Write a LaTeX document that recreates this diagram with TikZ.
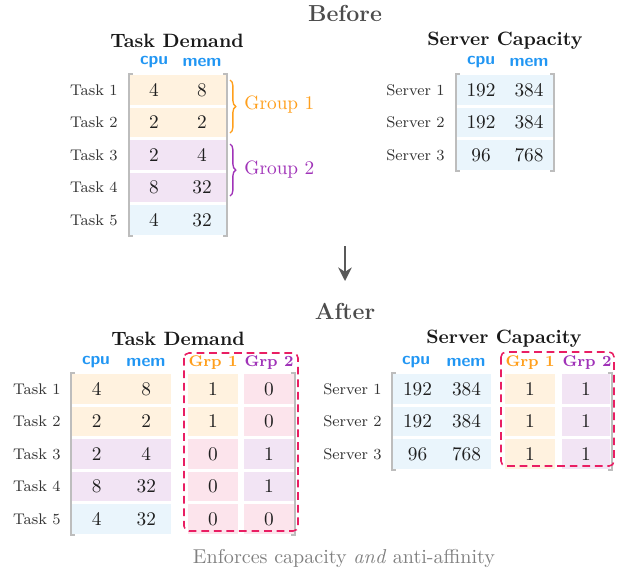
\documentclass[tikz,border=0pt]{standalone}
\usetikzlibrary{decorations.pathreplacing,arrows.meta}
\definecolor{obg}{HTML}{FFF2DF}
\definecolor{pbg}{HTML}{F2E4F4}
\definecolor{bbg}{HTML}{EAF5FC}
\definecolor{kbg}{HTML}{FCE4EC}
\definecolor{ofg}{HTML}{FF9F1C}
\definecolor{pfg}{HTML}{A033B8}
\definecolor{bfg}{HTML}{2196F3}
\definecolor{kfg}{HTML}{E91E63}
\definecolor{brk}{HTML}{BDBDBD}
\begin{document}
\begin{tikzpicture}[x=0.518pt,y=-0.518pt,
  cell/.style={inner sep=0pt,minimum height=15.5pt,text=black!88},
  wa/.style={minimum width=24.9pt},
  wb/.style={minimum width=25.65pt},
  wc/.style={minimum width=25.9pt},
  rowlbl/.style={anchor=east,font=\footnotesize,text=black!80,inner sep=0pt},
  colhd/.style={font=\small\sffamily\bfseries,text=bfg,inner sep=0pt},
  grphd/.style={font=\footnotesize\bfseries,inner sep=0pt},
  ttl/.style={font=\bfseries,text=black!90,inner sep=0pt},
  bigttl/.style={font=\large\bfseries,text=black!70,inner sep=0pt},
  brkt/.style={draw=brk,line width=0.6pt},
  grpbox/.style={draw=kfg,line width=0.8pt,dash pattern=on 4pt off 2.5pt,rounded corners=2.5pt},
  bracestyle/.style={decorate,decoration={brace,amplitude=3pt},line width=0.7pt},
]
\useasboundingbox (0,0) rectangle (623,571);

% ---------- Before ----------
\node[bigttl] (before) at (345,13) {Before};

% Task demand (before)
\node[ttl] (tdB) at (177,41) {Task Demand};
\node[colhd] (cpuB) at (154,62) {cpu};
\node[colhd] (memB) at (202,62) {mem};
\foreach \i/\y/\c/\a/\b in {1/90/obg/4/8, 2/122.5/obg/2/2, 3/155/pbg/2/4, 4/187.5/pbg/8/32, 5/220/bbg/4/32} {
  \node[rowlbl] (bt\i) at (118,\y) {Task \i};
  \node[cell,wa,fill=\c] (bta\i) at (154,\y) {\a};
  \node[cell,wa,fill=\c] (btb\i) at (202,\y) {\b};
}
\draw[brkt] (133,74) -- (129,74) -- (129,236) -- (133,236);
\draw[brkt] (223,74) -- (227,74) -- (227,236) -- (223,236);
\draw[bracestyle,draw=ofg] (230,80) -- (230,133);
\node[anchor=west,text=ofg,inner sep=0pt] (g1) at (244,105) {Group 1};
\draw[bracestyle,draw=pfg] (230,144) -- (230,196);
\node[anchor=west,text=pfg,inner sep=0pt] (g2) at (244,170) {Group 2};

% Server capacity (before)
\node[ttl] (scB) at (505,41) {Server Capacity};
\node[colhd] (scpuB) at (481,62) {cpu};
\node[colhd] (smemB) at (529,62) {mem};
\foreach \i/\y/\a/\b in {1/90/192/384, 2/122.5/192/384, 3/155/96/768} {
  \node[rowlbl] (bs\i) at (445,\y) {Server \i};
  \node[cell,wa,fill=bbg] (bsa\i) at (481,\y) {\a};
  \node[cell,wa,fill=bbg] (bsb\i) at (529,\y) {\b};
}
\draw[brkt] (460,74) -- (456,74) -- (456,171) -- (460,171);
\draw[brkt] (550,74) -- (554,74) -- (554,171) -- (550,171);

% Arrow
\coordinate (arrS) at (345,246);
\coordinate (arrE) at (345,281);
\draw[draw=black!65,line width=1.5pt,-{Stealth[length=7pt,width=7pt]}] (arrS) -- (arrE);

% ---------- After ----------
\node[bigttl] (after) at (345,311) {After};

% Task demand (after)
\node[ttl] (tdA) at (178,339) {Task Demand};
\node[colhd] (cpuA) at (96,362) {cpu};
\node[colhd] (memA) at (146,362) {mem};
\node[grphd,text=ofg] (g1A) at (213,363) {Grp 1};
\node[grphd,text=pfg] (g2A) at (269,363) {Grp 2};
\foreach \i/\y/\c/\a/\b/\p/\pc/\q/\qc in {1/389/obg/4/8/1/obg/0/kbg, 2/421.5/obg/2/2/1/obg/0/kbg, 3/454/pbg/2/4/0/kbg/1/pbg, 4/486.5/pbg/8/32/0/kbg/1/pbg, 5/519/bbg/4/32/0/kbg/0/kbg} {
  \node[rowlbl] (at\i) at (61,\y) {Task \i};
  \node[cell,wb,fill=\c] (ata\i) at (96.75,\y) {\a};
  \node[cell,wb,fill=\c] (atb\i) at (146.25,\y) {\b};
  \node[cell,wc,fill=\pc] (atg\i) at (213,\y) {\p};
  \node[cell,wc,fill=\qc] (ath\i) at (269,\y) {\q};
}
\draw[brkt] (75,373) -- (71,373) -- (71,535) -- (75,535);
\draw[brkt] (291,373) -- (295,373) -- (295,535) -- (291,535);
\draw[grpbox] (184,353) rectangle (298,531);

% Server capacity (after)
\node[ttl] (scA) at (504,339) {Server Capacity};
\node[colhd] (scpuA) at (416,362) {cpu};
\node[colhd] (smemA) at (466,362) {mem};
\node[grphd,text=ofg] (sg1A) at (530,363) {Grp 1};
\node[grphd,text=pfg] (sg2A) at (587,363) {Grp 2};
\foreach \i/\y/\a/\b in {1/389/192/384, 2/421.5/192/384, 3/454/96/768} {
  \node[rowlbl] (as\i) at (382,\y) {Server \i};
  \node[cell,wa,fill=bbg] (asa\i) at (417.5,\y) {\a};
  \node[cell,wa,fill=bbg] (asb\i) at (466.5,\y) {\b};
  \node[cell,wc,fill=obg] (asg\i) at (530,\y) {1};
  \node[cell,wa,fill=pbg] (ash\i) at (586,\y) {1};
}
\draw[brkt] (396,373) -- (392,373) -- (392,470) -- (396,470);
\draw[brkt] (608,373) -- (612,373) -- (612,470) -- (608,470);
\draw[grpbox] (501,352) rectangle (614,466);

% Caption
\node[text=black!50,inner sep=0pt,font=\fontsize{10.4}{12}\selectfont] (cap) at (344,558) {Enforces capacity \textit{and} anti-affinity};
\end{tikzpicture}
\end{document}
